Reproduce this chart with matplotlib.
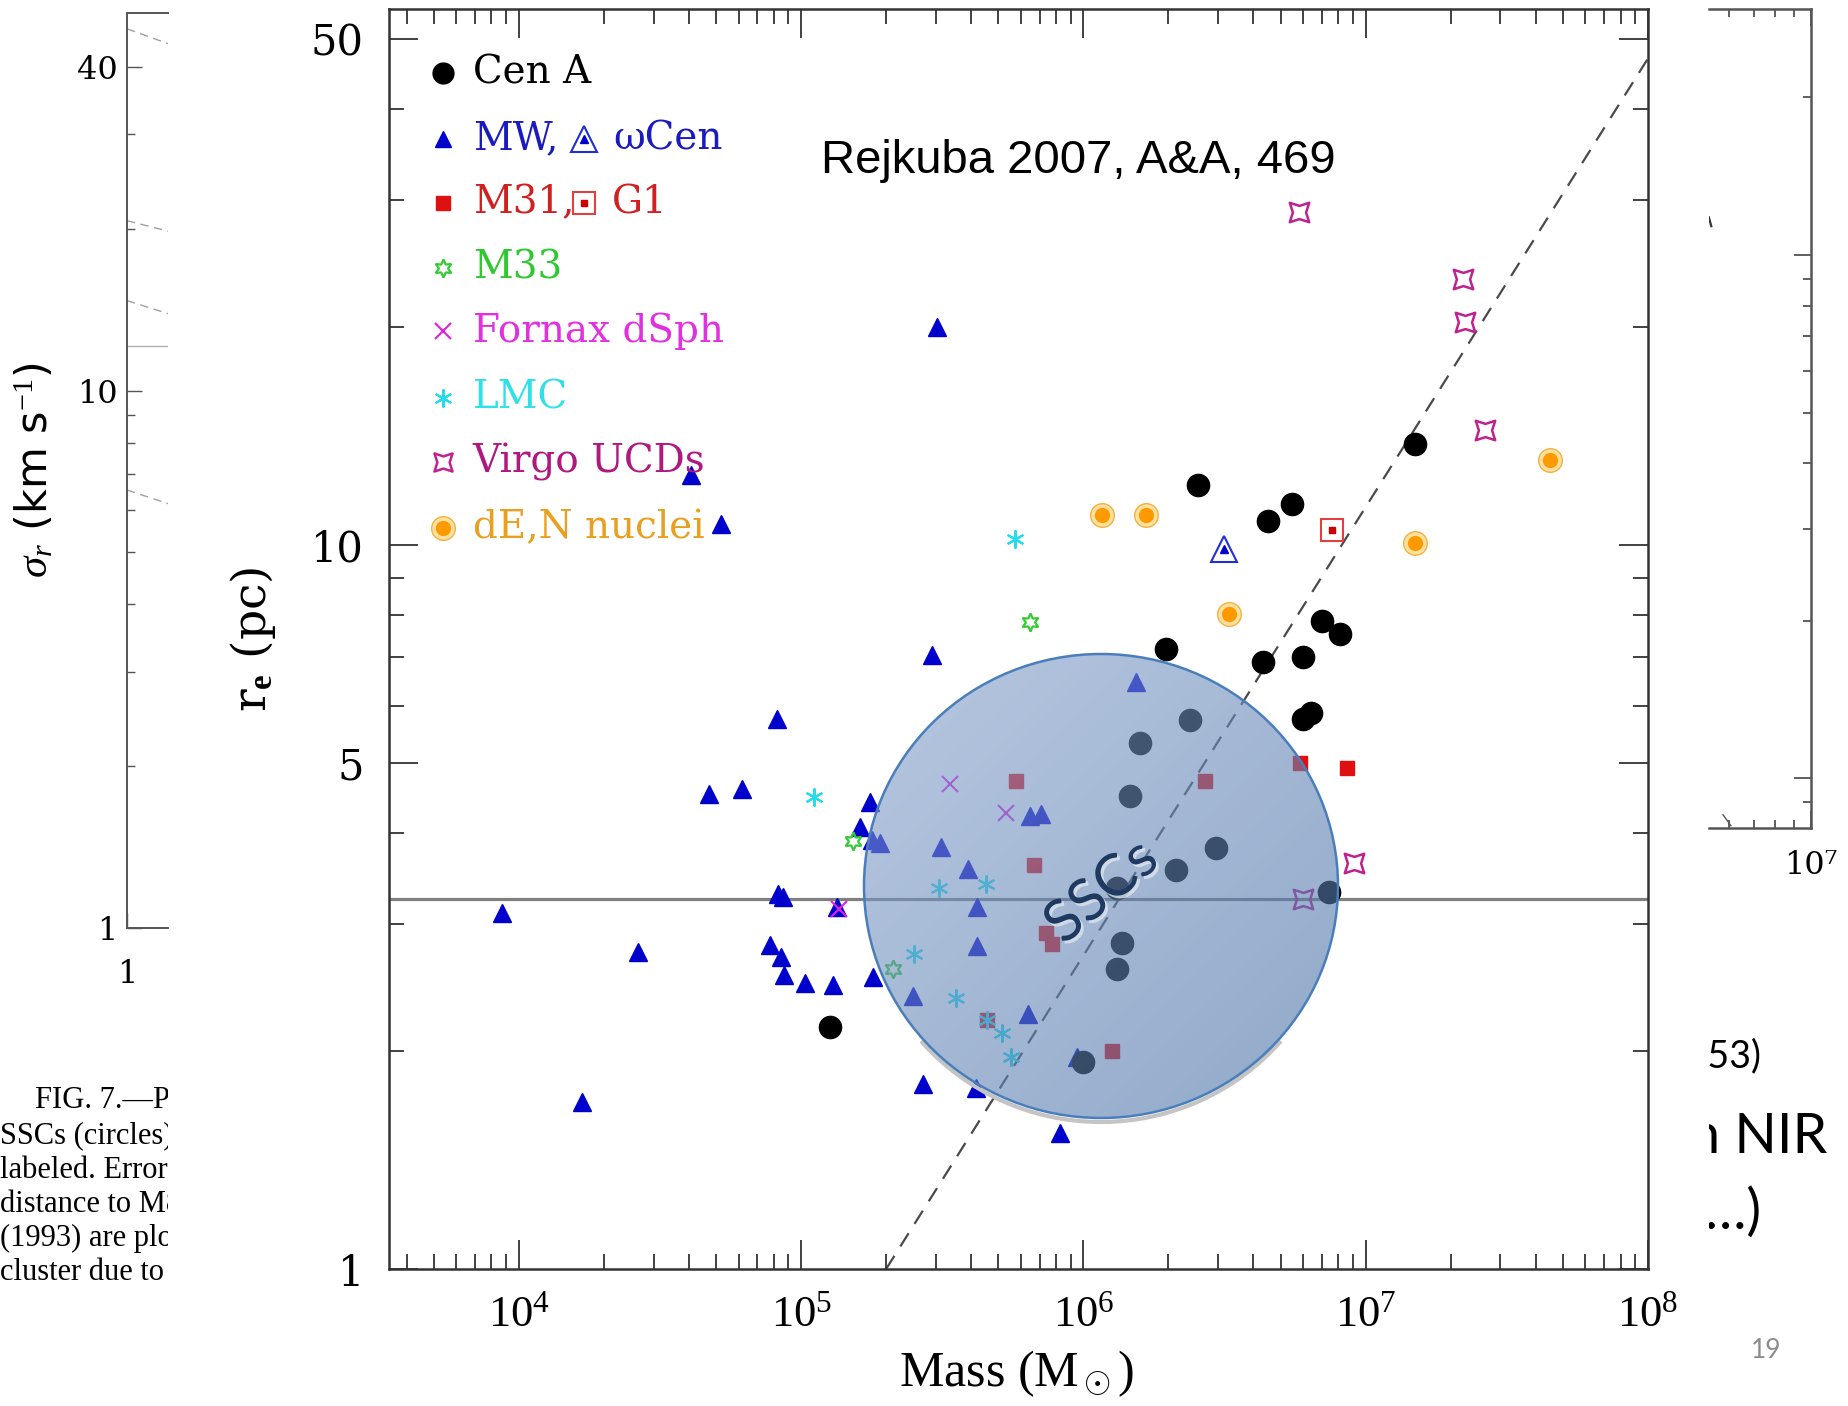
import numpy as np
import matplotlib.pyplot as plt
from matplotlib.patches import Ellipse, Arc
from matplotlib.path import Path
from matplotlib.transforms import Affine2D
from matplotlib.colors import LinearSegmentedColormap
from matplotlib.ticker import FixedLocator, NullFormatter, LogLocator
import matplotlib.patheffects as pe

plt.rcParams['mathtext.fontset'] = 'custom'
plt.rcParams['mathtext.rm'] = 'Liberation Serif'
plt.rcParams['mathtext.it'] = 'Liberation Serif:italic'
plt.rcParams['mathtext.bf'] = 'Liberation Serif:bold'

# ---- data (mass in Msun, r_e in pc) ----
cena_m = [1.27e5, 1.96e6, 2.55e6, 4.5e6, 5.5e6, 4.33e6, 6.0e6, 7.0e6, 8.1e6, 1.49e7,
          6.0e6, 6.4e6, 1.59e6, 2.38e6, 1.46e6, 2.94e6, 2.12e6, 7.4e6, 1.37e6, 1.32e6,
          1.0e6, 1.31e6]
cena_r = [2.16, 7.18, 12.1, 10.8, 11.4, 6.89, 7.0, 7.85, 7.54, 13.8,
          5.75, 5.86, 5.32, 5.73, 4.5, 3.81, 3.56, 3.32, 2.82, 2.6,
          1.93, 3.36]

mw_m = [3.03e5, 4.08e4, 5.19e4, 2.91e5, 8.24e4, 4.72e4, 6.18e4, 1.75e5, 1.62e5, 1.78e5,
        1.91e5, 6.49e5, 7.06e5, 1.54e6, 3.12e5, 3.89e5, 4.2e5, 8.65e4, 8.3e4, 8.74e3,
        1.34e5, 2.65e4, 7.78e4, 8.5e4, 8.73e4, 1.03e5, 1.3e5, 1.8e5, 4.2e5, 2.5e5,
        6.36e5, 9.5e5, 2.7e5, 4.16e5, 1.67e4, 8.24e5]
mw_r = [20.0, 12.5, 10.7, 7.04, 5.75, 4.53, 4.6, 4.41, 4.08, 3.91,
        3.88, 4.23, 4.25, 6.46, 3.83, 3.57, 3.16, 3.26, 3.3, 3.1,
        3.16, 2.74, 2.8, 2.7, 2.55, 2.48, 2.47, 2.53, 2.79, 2.38,
        2.25, 1.96, 1.8, 1.78, 1.7, 1.54]

m31_m = [8.57e6, 5.78e5, 2.7e6, 5.83e6, 6.67e5, 7.35e5, 7.71e5, 4.54e5, 1.26e6]
m31_r = [4.92, 4.72, 4.72, 5.0, 3.62, 2.91, 2.81, 2.21, 2.0]

m33_m = [6.49e5, 1.53e5, 2.12e5]
m33_r = [7.82, 3.9, 2.6]

fornax_m = [3.37e5, 5.3e5, 1.36e5]
fornax_r = [4.67, 4.26, 3.14]

lmc_m = [5.71e5, 1.11e5, 3.09e5, 4.5e5, 2.52e5, 3.53e5, 5.14e5, 5.56e5, 4.54e5]
lmc_r = [10.2, 4.49, 3.36, 3.4, 2.72, 2.37, 2.12, 1.96, 2.21]

virgo_m = [5.78e6, 2.22e7, 2.25e7, 2.65e7, 9.08e6, 6.0e6]
virgo_r = [28.8, 23.3, 20.3, 14.4, 3.64, 3.24]

den_m = [1.16e6, 1.67e6, 3.27e6, 1.5e7, 4.5e7]
den_r = [11.0, 11.0, 8.03, 10.05, 13.1]

g1_m, g1_r = [7.57e6], [10.5]
omcen_m, omcen_r = [3.15e6], [9.87]

relation_m = [2.0e5, 1.0e8]
relation_r = [1.0, 47.0]
hline_r = 3.24

xticks = [1e4, 1e5, 1e6, 1e7, 1e8]
xtick_labels = ['$10^{4}$', '$10^{5}$', '$10^{6}$', '$10^{7}$', '$10^{8}$']
yticks = [1, 5, 10, 50]
ytick_labels = ['1', '5', '10', '50']
yminor = [2, 3, 4, 6, 7, 8, 9, 20, 30, 40]

legend_names = ['Cen A', 'MW,', 'M31,', 'M33', 'Fornax dSph', 'LMC', 'Virgo UCDs', 'dE,N nuclei']

# left (cut) panel: sigma_r axis and line fragments
left_yticks = [1, 10, 40]
left_yminor = [2, 3, 4, 5, 6, 7, 8, 9, 20, 30]
left_frag_y0 = [47.1, 20.7, 14.7, 6.53]
left_frag_y1 = [44.2, 19.8, 13.9, 6.16]
left_flat_y = 12.1

caption_lines = ['FIG. 7.\u2014Projected', 'SSCs (circles) and', 'labeled. Error bars',
                 'distance to M82', '(1993) are plotted', 'cluster due to the']

# ---- styles ----
c_mw = '#0000CC'
c_m31 = '#E01010'
c_m33 = '#33CC33'
c_fx = '#E020E0'
c_lmc = '#22DDEE'
c_vir = '#C02090'
c_den = '#FF9900'

star4 = Affine2D().rotate_deg(45).transform_path(Path.unit_regular_star(4, 0.48))

fig = plt.figure(figsize=(18.48, 14.06), dpi=100)

# ---- main panel ----
ax = fig.add_axes([389 / 1848, 137 / 1406, 1259 / 1848, 1260 / 1406])
ax.set_xscale('log')
ax.set_yscale('log')

ax.axhline(hline_r, color='#808080', lw=2.3, zorder=1)
ax.plot(relation_m, relation_r, color='#4A4A4A', lw=1.6, ls=(0, (7, 5)), zorder=1)

ax.plot(mw_m, mw_r, ls='none', marker='^', ms=13, color=c_mw, mec=c_mw, zorder=3)
ax.plot(m31_m, m31_r, ls='none', marker='s', ms=10, color=c_m31, mec=c_m31, zorder=3)
ax.plot(m33_m, m33_r, ls='none', marker=(6, 1, 0), ms=13, mfc='none', mec=c_m33, mew=1.6, zorder=3)
ax.plot(fornax_m, fornax_r, ls='none', marker='x', ms=11, mec=c_fx, mew=1.5, zorder=3)
ax.plot(lmc_m, lmc_r, ls='none', marker=(6, 2, 0), ms=13, mec=c_lmc, mew=1.5, zorder=3)
ax.plot(virgo_m, virgo_r, ls='none', marker=star4, ms=14, mfc='none', mec=c_vir, mew=1.8, zorder=3)
ax.plot(den_m, den_r, ls='none', marker='o', ms=17, mfc='#FFE2A0', mec='#F5B040', mew=1.0, zorder=3)
ax.plot(den_m, den_r, ls='none', marker='o', ms=11, mfc=c_den, mec='none', zorder=3)
ax.plot(cena_m, cena_r, ls='none', marker='o', ms=16, color='black', zorder=4)
ax.plot(g1_m, g1_r, ls='none', marker='s', ms=16, mfc='white', mec='#E04040', mew=1.5, zorder=3)
ax.plot(g1_m, g1_r, ls='none', marker='s', ms=5, color='#CC0000', zorder=3)
ax.plot(omcen_m, omcen_r, ls='none', marker='^', ms=19, mfc='white', mec='#2030D0', mew=1.5, zorder=3)
ax.plot(omcen_m, omcen_r, ls='none', marker='^', ms=6, color=c_mw, zorder=3)

# legend (drawn by hand, as in the figure)
leg_y = [0.9495, 0.897, 0.846, 0.7942, 0.7446, 0.6913, 0.6408, 0.5884]
leg_colors = ['black', '#1A1ABF', '#D02020', '#30C830', '#E030E0', '#30E0E8', '#B01880', '#E8A020']
leg_styles = [dict(marker='o', ms=15, color='black'),
              dict(marker='^', ms=12, color=c_mw),
              dict(marker='s', ms=10, color=c_m31),
              dict(marker=(6, 1, 0), ms=13, mfc='none', mec=c_m33, mew=1.6),
              dict(marker='x', ms=11, mec=c_fx, mew=1.5),
              dict(marker=(6, 2, 0), ms=13, mec=c_lmc, mew=1.5),
              dict(marker=star4, ms=13, mfc='none', mec=c_vir, mew=1.8)]
for yy, st in zip(leg_y, leg_styles):
    ax.plot([0.0431], [yy], ls='none', transform=ax.transAxes, clip_on=False, **st)
ax.plot([0.0431], [leg_y[7]], ls='none', marker='o', ms=17, mfc='#FFE2A0', mec='#F5B040',
        mew=1.0, transform=ax.transAxes)
ax.plot([0.0431], [leg_y[7]], ls='none', marker='o', ms=11, mfc=c_den, mec='none',
        transform=ax.transAxes)
for name, yy, cc in zip(legend_names, leg_y, leg_colors):
    ax.text(0.0665, yy, name, transform=ax.transAxes, color=cc, fontsize=28,
            family='DejaVu Serif', va='center', ha='left')
ax.plot([0.1545], [leg_y[1]], ls='none', marker='^', ms=19, mfc='white', mec='#2030D0',
        mew=1.5, transform=ax.transAxes)
ax.plot([0.1545], [leg_y[1]], ls='none', marker='^', ms=6, color=c_mw, transform=ax.transAxes)
ax.text(0.178, leg_y[1], '\u03c9Cen', transform=ax.transAxes, color='#1A1ABF', fontsize=28,
        family='DejaVu Serif', va='center', ha='left')
ax.plot([0.1545], [leg_y[2]], ls='none', marker='s', ms=16, mfc='white', mec='#E04040',
        mew=1.5, transform=ax.transAxes)
ax.plot([0.1545], [leg_y[2]], ls='none', marker='s', ms=5, color='#CC0000', transform=ax.transAxes)
ax.text(0.177, leg_y[2], 'G1', transform=ax.transAxes, color='#D02020', fontsize=28,
        family='DejaVu Serif', va='center', ha='left')

ax.set_xlim(10 ** 3.54, 1e8)
ax.set_ylim(1, 55)
ax.xaxis.set_major_locator(FixedLocator(xticks))
ax.xaxis.set_minor_locator(LogLocator(base=10, subs=np.arange(2, 10), numticks=60))
ax.xaxis.set_minor_formatter(NullFormatter())
ax.set_xticklabels(xtick_labels, fontsize=32)
ax.yaxis.set_major_locator(FixedLocator(yticks))
ax.yaxis.set_minor_locator(FixedLocator(yminor))
ax.yaxis.set_minor_formatter(NullFormatter())
ax.set_yticklabels(ytick_labels, fontsize=30, family='DejaVu Serif')
ax.tick_params(which='both', direction='in', top=True, right=True, width=1.3, color='#333333')
ax.tick_params(which='major', length=21)
ax.tick_params(which='minor', length=11)
ax.tick_params(axis='x', which='major', pad=17)
ax.tick_params(axis='y', which='major', pad=18)
for sp in ax.spines.values():
    sp.set_linewidth(1.8)
    sp.set_color('#333333')
ax.set_xlabel(r'Mass (M$_\odot$)', fontsize=36, family='Liberation Serif')
ax.xaxis.set_label_coords(0.498, -0.083)
ax.xaxis.label.set_va('center')
ax.set_ylabel(r'r$_\mathbf{e}$ (pc)', fontsize=34, family='DejaVu Serif')
ax.yaxis.set_label_coords(-0.108, 0.5)
ax.yaxis.label.set_va('center')

# ---- left cut-off panel ----
lp = fig.add_axes([127 / 1848, 478 / 1406, 41 / 1848, 915 / 1406])
lp.set_xscale('log')
lp.set_yscale('log')
for y0, y1 in zip(left_frag_y0, left_frag_y1):
    lp.plot([1, 2], [y0, y1], color='#A0A0A0', lw=1.0, ls=(0, (6, 4)))
lp.axhline(left_flat_y, color='#B0B0B0', lw=1.0)
lp.set_xlim(1, 2)
lp.set_ylim(1, 50.4)
lp.xaxis.set_major_locator(FixedLocator([1]))
lp.xaxis.set_minor_locator(FixedLocator([]))
lp.set_xticklabels(['1'], fontsize=23, family='DejaVu Serif')
lp.yaxis.set_major_locator(FixedLocator(left_yticks))
lp.yaxis.set_minor_locator(FixedLocator(left_yminor))
lp.yaxis.set_minor_formatter(NullFormatter())
lp.set_yticklabels(['1', '10', '40'], fontsize=23, family='DejaVu Serif')
lp.tick_params(which='both', direction='in', color='#555555', width=1.0)
lp.tick_params(which='major', length=11)
lp.tick_params(which='minor', length=6)
lp.tick_params(axis='y', pad=7)
lp.tick_params(axis='x', pad=22)
lp.spines['right'].set_visible(False)
for sp in ['left', 'top', 'bottom']:
    lp.spines[sp].set_color('#555555')
    lp.spines[sp].set_linewidth(1.4)
lp.set_ylabel(r'$\sigma_r$ (km s$^{-1}$)', fontsize=31, family='DejaVu Sans')
lp.yaxis.set_label_coords(-2.25, 0.5)
lp.yaxis.label.set_va('center')

# ---- right cut-off panel ----
rp = fig.add_axes([1709 / 1848, 578 / 1406, 102 / 1848, 819 / 1406])
rp.set_xscale('log')
rp.set_yscale('log')
rp.plot([5.77e6, 6.06e6], [0.852, 0.812], color='#555555', lw=1.0)
rp.plot([5.28e6, 5.36e6], [11.8, 11.35], color='#333333', lw=1.6)
rp.set_xlim(10 ** 6.723, 1e7)
rp.set_ylim(0.804, 29.5)
rp.xaxis.set_major_locator(FixedLocator([1e7]))
rp.xaxis.set_minor_locator(FixedLocator([6e6, 7e6, 8e6, 9e6]))
rp.xaxis.set_minor_formatter(NullFormatter())
rp.set_xticklabels(['10\u2077'], fontsize=23, family='DejaVu Serif')
rp.yaxis.set_major_locator(FixedLocator([1, 10]))
rp.yaxis.set_minor_locator(FixedLocator([0.9, 2, 3, 4, 5, 6, 7, 8, 9, 20]))
rp.tick_params(which='both', direction='in', left=False, right=True, top=True,
               labelleft=False, labelright=False, color='#444444', width=1.2)
rp.tick_params(which='major', length=12)
rp.tick_params(which='minor', length=6)
rp.tick_params(axis='x', pad=16)
rp.spines['left'].set_visible(False)
for sp in ['right', 'top', 'bottom']:
    rp.spines[sp].set_color('#555555')
    rp.spines[sp].set_linewidth(1.8)

# ---- caption fragment (left) ----
cap = fig.add_axes([0, 106 / 1406, 168 / 1848, 240 / 1406])
cap.set_xlim(0, 168)
cap.set_ylim(1300, 1060)
cap.axis('off')
cap_y = [1108, 1144, 1178, 1212, 1246, 1280]
for i, (line, yy) in enumerate(zip(caption_lines, cap_y)):
    cap.text(35 if i == 0 else 0, yy, line, fontsize=22, family='Liberation Serif',
             va='baseline', ha='left', clip_on=True)

# ---- slide text fragments (right) ----
rt = fig.add_axes([1709 / 1848, 106 / 1406, 139 / 1848, 300 / 1406])
rt.set_xlim(1709, 1848)
rt.set_ylim(1300, 1000)
rt.axis('off')
rt.text(1761, 1067, '(1953)', fontsize=27, family='Lato', ha='right', va='baseline', clip_on=True)
rt.text(1827, 1153, 'in NIR', fontsize=40, family='Lato', ha='right', va='baseline', clip_on=True)
rt.text(1762, 1229, '(\u2026)', fontsize=40, family='Lato', ha='right', va='baseline', clip_on=True)

# ---- overlay: SSC ellipse and slide annotations ----
ov = fig.add_axes([0, 0, 1, 1], zorder=5)
ov.axis('off')
cx, cy, ew, eh = 1101, 886, 474, 464
shadow = Arc((cx, cy + 4), ew, eh, theta1=40, theta2=140, color='#C4C4C4', lw=3, zorder=1)
ov.add_patch(shadow)
gx, gy = np.meshgrid(np.linspace(0, 1, 256), np.linspace(0, 1, 256))
cmap = LinearSegmentedColormap.from_list('ssc', ['#88A2CC', '#4670A5'])
im = ov.imshow((gx + gy) / 2, extent=[cx - ew / 2, cx + ew / 2, cy + eh / 2, cy - eh / 2],
               cmap=cmap, alpha=0.6, aspect='auto', interpolation='bilinear', zorder=2)
ell = Ellipse((cx, cy), ew, eh, facecolor='none', edgecolor='#4A7EBB', lw=1.8, zorder=3)
ov.add_patch(ell)
im.set_clip_path(ell)
ov.text(cx + 1, cy + 6, 'SSCs', rotation=40, ha='center', va='center', fontsize=42,
        family='Lato', color='#1F3A60', zorder=4,
        path_effects=[pe.withSimplePatchShadow(offset=(2, -2), shadow_rgbFace='#DDE4EE', alpha=0.8)])
ov.text(1078, 161, 'Rejkuba 2007, A&A, 469', ha='center', va='center', fontsize=34,
        family='Liberation Sans', color='black', zorder=4)
ov.text(1766, 1350, '19', ha='center', va='center', fontsize=19, family='Lato',
        color='#8C8C8C', zorder=4)
ov.set_xlim(0, 1848)
ov.set_ylim(1406, 0)

fig.savefig('out.png', dpi=100)
